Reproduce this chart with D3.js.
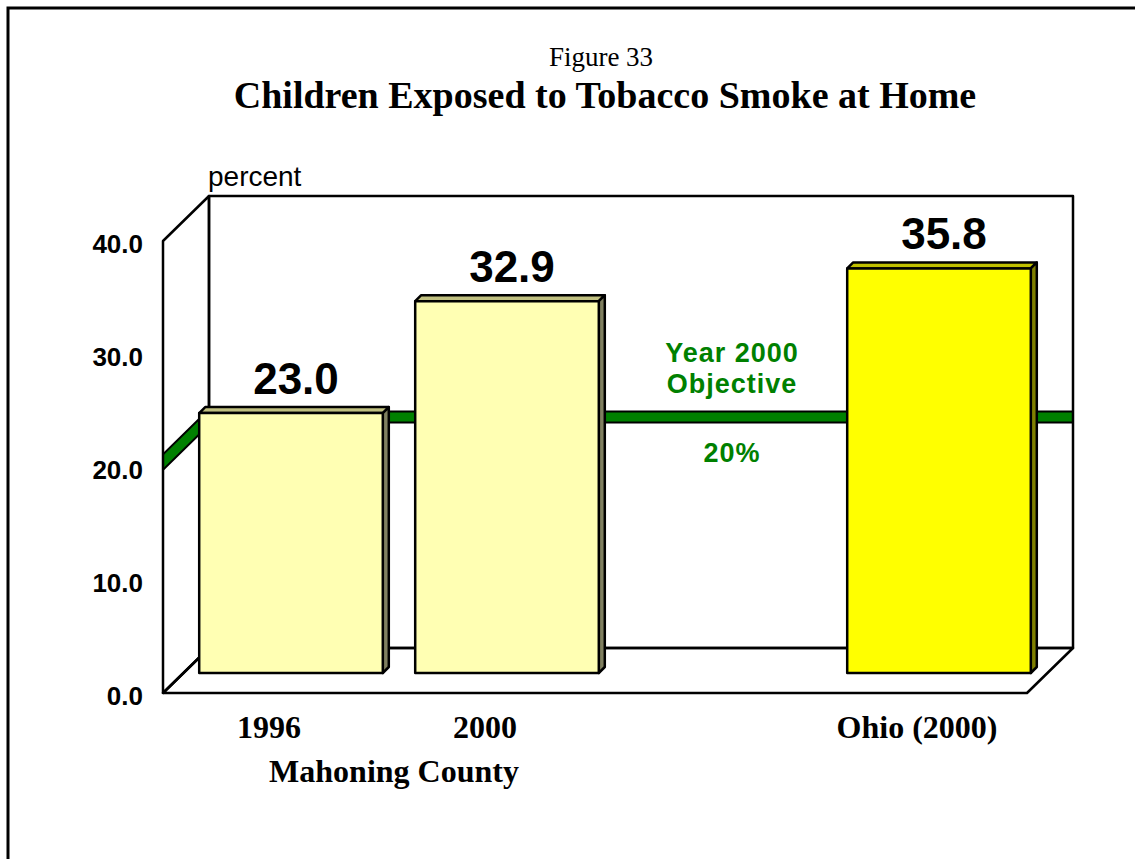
<!DOCTYPE html>
<html>
<head>
<meta charset="utf-8">
<script src="https://cdn.jsdelivr.net/npm/d3@7"></script>
<style>
  body { margin: 0; background: #fff; }
  svg { display: block; }
</style>
</head>
<body>
<script>
// chart data
const categories = ["1996", "2000", "", "Ohio (2000)"];
const values = [23.0, 32.9, null, 35.8];
const barKinds = ["county", "county", null, "state"];
const yTicks = [0, 10, 20, 30, 40];
const objective = 20;

const width = 1135, height = 859;
const plotL = 163, plotR = 1027, plotFront = 693, plotTop = 241;
const depth = {dx: 46, dy: -45};   // back wall offset
const barOff = 20;                  // bars sit part way into the floor
const barDepth = 6;
const objLift = 5;                  // thick line sits a little high, like the original

const colors = {
  county: {front: "#FFFFB3", top: "#C0C080", side: "#808060"},
  state:  {front: "#FFFF00", top: "#C0C000", side: "#808000"}
};

const svg = d3.select("body").append("svg")
  .attr("width", width)
  .attr("height", height);

// outer frame
svg.append("rect")
  .attr("x", 8).attr("y", 8)
  .attr("width", 1140).attr("height", 870)
  .attr("fill", "none").attr("stroke", "#000").attr("stroke-width", 3);

const x = d3.scaleBand()
  .domain(categories)
  .range([plotL, plotR])
  .paddingInner(0.15)
  .paddingOuter(0.075);

const y = d3.scaleLinear()
  .domain([0, 40])
  .range([plotFront, plotTop]);

// titles
svg.append("text")
  .attr("x", 601).attr("y", 66)
  .attr("text-anchor", "middle")
  .style("font", "27px 'Liberation Serif', 'Times New Roman', serif")
  .text("Figure 33");
svg.append("text")
  .attr("x", 605).attr("y", 108)
  .attr("text-anchor", "middle")
  .style("font", "bold 38px 'Liberation Serif', 'Times New Roman', serif")
  .text("Children Exposed to Tobacco Smoke at Home");

svg.append("text")
  .attr("x", 208).attr("y", 186)
  .style("font", "28px 'Liberation Sans', Arial, sans-serif")
  .text("percent");

// walls
const bx = plotL + depth.dx, by0 = y(0) + depth.dy, by1 = y(40) + depth.dy;
const bxr = plotR + depth.dx;

const clip = svg.append("clipPath").attr("id", "walls");
clip.append("polygon")
  .attr("points", [[plotL, y(0)], [plotL, y(40)], [bx, by1], [bxr, by1], [bxr, by0], [plotR, y(0)]].join(" "));

// objective line on side and back wall
const oy = y(objective) - objLift;
const objPts = [[plotL - 10, oy + 10], [bx, oy + depth.dy], [bxr + 10, oy + depth.dy]];
const objLine = d3.line();
const og = svg.append("g").attr("clip-path", "url(#walls)");
og.append("path")
  .attr("d", objLine(objPts))
  .attr("fill", "none").attr("stroke", "#000").attr("stroke-width", 13);
og.append("path")
  .attr("d", objLine(objPts))
  .attr("fill", "none").attr("stroke", "#008000").attr("stroke-width", 9);

const wall = svg.append("g")
  .attr("fill", "none").attr("stroke", "#000").attr("stroke-width", 2.5)
  .attr("stroke-linejoin", "round");
// back wall
wall.append("rect")
  .attr("x", bx).attr("y", by1)
  .attr("width", bxr - bx).attr("height", by0 - by1);
// side wall
wall.append("polygon")
  .attr("points", [[plotL, y(0)], [plotL, y(40)], [bx, by1], [bx, by0]].join(" "));
// floor
wall.append("polygon")
  .attr("points", [[plotL, y(0)], [plotR, y(0)], [bxr, by0], [bx, by0]].join(" "));

// y axis labels
const yAxis = d3.axisLeft(y)
  .tickValues(yTicks)
  .tickFormat(d3.format(".1f"))
  .tickSize(0)
  .tickPadding(0);
const ya = svg.append("g")
  .attr("transform", "translate(143,2)")
  .call(yAxis);
ya.select(".domain").remove();
ya.selectAll("text")
  .attr("dy", "0.36em")
  .style("font", "bold 26px 'Liberation Sans', Arial, sans-serif")
  .attr("fill", "#000");

// objective labels
const objText = svg.append("g")
  .attr("fill", "#008000")
  .attr("text-anchor", "middle")
  .style("font", "bold 27px 'Liberation Sans', Arial, sans-serif")
  .style("letter-spacing", "1px");
objText.append("text").attr("x", 732).attr("y", 362).text("Year 2000");
objText.append("text").attr("x", 732).attr("y", 393).text("Objective");
objText.append("text").attr("x", 732).attr("y", 462).text(objective + "%");

// bars
const bars = categories.map((c, i) => ({cat: c, value: values[i], kind: barKinds[i]}))
  .filter(d => d.value != null);

const bw = x.bandwidth();
const bg = svg.selectAll("g.bar")
  .data(bars)
  .enter()
  .append("g")
  .attr("class", "bar")
  .attr("stroke", "#000")
  .attr("stroke-width", 2.5)
  .attr("stroke-linejoin", "round");

bg.append("polygon")
  .attr("fill", d => colors[d.kind].top)
  .attr("points", d => {
    const x0 = x(d.cat) + barOff, x1 = x0 + bw, yt = y(d.value) - barOff;
    return [[x0, yt], [x0 + barDepth, yt - barDepth], [x1 + barDepth, yt - barDepth], [x1, yt]].join(" ");
  });
bg.append("polygon")
  .attr("fill", d => colors[d.kind].side)
  .attr("points", d => {
    const x1 = x(d.cat) + barOff + bw, yt = y(d.value) - barOff, yb = y(0) - barOff;
    return [[x1, yt], [x1 + barDepth, yt - barDepth], [x1 + barDepth, yb - barDepth], [x1, yb]].join(" ");
  });
bg.append("rect")
  .attr("fill", d => colors[d.kind].front)
  .attr("x", d => x(d.cat) + barOff)
  .attr("y", d => y(d.value) - barOff)
  .attr("width", bw)
  .attr("height", d => y(0) - y(d.value));

// value labels
svg.selectAll("text.val")
  .data(bars)
  .enter()
  .append("text")
  .attr("class", "val")
  .attr("x", d => x(d.cat) + barOff + bw / 2 + 5)
  .attr("y", d => y(d.value) - barOff - 19)
  .attr("text-anchor", "middle")
  .style("font", "bold 44px 'Liberation Sans', Arial, sans-serif")
  .text(d => d3.format(".1f")(d.value));

// category labels
svg.selectAll("text.cat")
  .data(categories.filter(c => c))
  .enter()
  .append("text")
  .attr("class", "cat")
  .attr("x", d => x(d) + bw / 2 - 2)
  .attr("y", 738)
  .attr("text-anchor", "middle")
  .style("font", "bold 32px 'Liberation Serif', 'Times New Roman', serif")
  .text(d => d);

svg.append("text")
  .attr("x", 394).attr("y", 782)
  .attr("text-anchor", "middle")
  .style("font", "bold 32px 'Liberation Serif', 'Times New Roman', serif")
  .text("Mahoning County");
</script>
</body>
</html>
